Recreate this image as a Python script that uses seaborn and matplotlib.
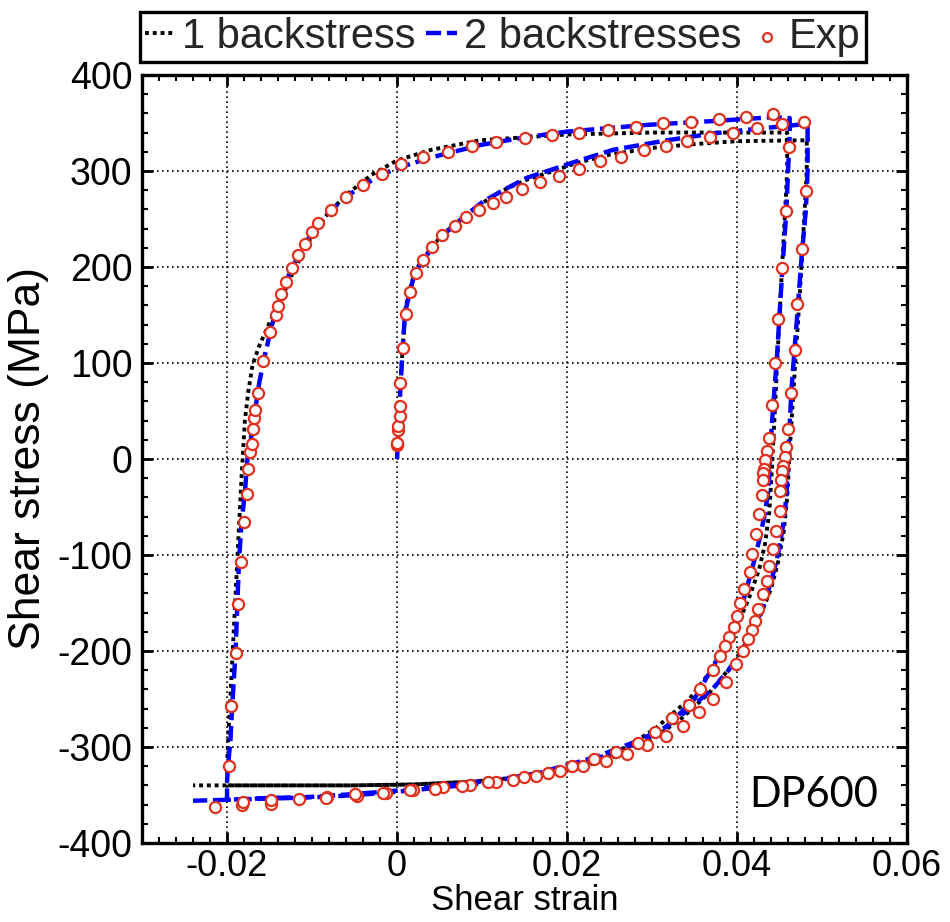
import matplotlib
matplotlib.use("Agg")
import matplotlib.pyplot as plt
import seaborn as sns
import pandas as pd
from matplotlib.ticker import MultipleLocator

# ---------------- data ----------------
# 1 backstress model, full load path: load -> unload -> reverse -> reload -> unload
bs1_strain = [0, 0.0002, 0.0004, 0.0007, 0.0010, 0.0016, 0.0022, 0.0032, 0.0043, 0.0055, 0.0070,
              0.0085, 0.0101, 0.0125, 0.0153, 0.0184, 0.0210, 0.0250, 0.0300, 0.0350, 0.0400, 0.0482,
              0.0482, 0.0479, 0.0473, 0.0467, 0.0462, 0.0459, 0.0455, 0.0449, 0.0440, 0.0428, 0.0412,
              0.0392, 0.0368, 0.0335, 0.0300, 0.0260, 0.0210, 0.0150, 0.0090, 0.0020, -0.0050, -0.0200,
              -0.0200, -0.0198, -0.0195, -0.0191, -0.0187, -0.0183, -0.0179, -0.0175, -0.0170, -0.0162,
              -0.0150, -0.0137, -0.0122, -0.0105, -0.0085, -0.0060, -0.0030, 0.0000, 0.0040, 0.0098,
              0.0200, 0.0300, 0.0400, 0.0459,
              0.0459, 0.0456, 0.0450, 0.0445, 0.0441, 0.0438, 0.0433, 0.0426, 0.0414, 0.0398, 0.0374,
              0.0344, 0.0305, 0.0262, 0.0210, 0.0150, 0.0090, 0.0020, -0.0050, -0.0240]
bs1_stress = [0, 40, 80, 120, 158, 180, 197, 210, 223, 235, 246,
              257, 267, 280, 291, 300, 308, 317, 324, 328, 331, 332,
              300, 250, 160, 80, 10, -40, -75, -105, -135, -162, -190,
              -217, -243, -270, -292, -309, -323, -332, -336, -339, -340, -340,
              -320, -280, -230, -160, -90, -20, 40, 70, 98, 118,
              142, 165, 195, 225, 252, 275, 296, 311, 322, 332,
              338, 340, 340, 340,
              300, 250, 150, 60, -10, -55, -88, -115, -145, -178, -215,
              -250, -280, -305, -322, -331, -336, -339, -340, -340]

# 2 backstresses model, same load path
bs2_strain = [0, 0.0002, 0.00043, 0.00067, 0.00094, 0.0015, 0.0021, 0.0031, 0.0042, 0.0054, 0.0068,
              0.0084, 0.0101, 0.0125, 0.0153, 0.0184, 0.0204, 0.0254, 0.0318, 0.0372, 0.0424, 0.0459,
              0.0483,
              0.0483, 0.0481, 0.0476, 0.0470, 0.0464, 0.0460, 0.0458, 0.0454, 0.0448, 0.0440, 0.0430,
              0.0418, 0.0404, 0.0390, 0.0372, 0.0340, 0.0309, 0.0274, 0.0235, 0.0200, 0.0150, 0.0090,
              0.0020, -0.0050, -0.0120, -0.0200,
              -0.0200, -0.0199, -0.0196, -0.0194, -0.0190, -0.0188, -0.0186, -0.0183, -0.0179, -0.0176,
              -0.0172, -0.0167, -0.0162, -0.0155, -0.0147, -0.0138, -0.0128, -0.0115, -0.0100, -0.0080,
              -0.0060, -0.0040, -0.0020, 0.0000, 0.0040, 0.0098, 0.0150, 0.0200, 0.0294, 0.0372, 0.0442,
              0.0462,
              0.0462, 0.0458, 0.0453, 0.0447, 0.0441, 0.0437, 0.0432, 0.0426, 0.0419, 0.0411, 0.0402,
              0.0388, 0.0372, 0.0349, 0.0317, 0.0282, 0.0235, 0.0200, 0.0156, 0.0098, 0.0019, -0.0016,
              -0.0083, -0.0146, -0.0200, -0.0240]
bs2_stress = [0, 40, 79, 116, 152, 174, 194, 207, 221, 233, 244,
              256, 268, 280, 293, 302, 308, 322, 332, 339, 344, 347,
              349,
              300, 260, 211, 141, 72, 2, -40, -70, -100, -128, -155,
              -180, -202, -220, -239, -263, -284, -299, -312, -321, -330, -337,
              -344, -349, -353, -355,
              -337, -321, -293, -258, -202, -154, -108, -67, -35, 0,
              20, 50, 80, 110, 140, 165, 190, 214, 236, 257,
              273, 285, 295, 303, 314, 327, 335, 341, 348, 352, 356,
              355,
              340, 259, 194, 107, 37, -32, -60, -85, -110, -136, -164,
              -189, -216, -251, -279, -294, -310, -319, -329, -338, -345, -348,
              -352, -353, -355, -356]

# experimental points
exp_strain = [0, 0, 0.0001, 0.0001, 0.0003, 0.0003, 0.0004, 0.0007, 0.0010, 0.0015, 0.0022, 0.0031,
              0.0041, 0.0053, 0.0068, 0.0081, 0.0097, 0.0113, 0.0128, 0.0147, 0.0168, 0.0190, 0.0214,
              0.0239, 0.0264, 0.0290, 0.0316, 0.0341, 0.0368, 0.0395, 0.0423, 0.0453,
              0.0479, 0.0481, 0.0476, 0.0471, 0.0468, 0.0463, 0.0460, 0.0458, 0.0456, 0.0454, 0.0453,
              0.0452, 0.0451, 0.0450, 0.0446, 0.0442, 0.0438, 0.0435, 0.0430, 0.0425, 0.0421, 0.0417,
              0.0413, 0.0407, 0.0399, 0.0387, 0.0372, 0.0355, 0.0336, 0.0317, 0.0294, 0.0271, 0.0246,
              0.0219, 0.0192, 0.0164, 0.0137, 0.0116, 0.0086, 0.0054, 0.0019, -0.0013, -0.0047,
              -0.0082, -0.0115, -0.0148, -0.0182,
              -0.0198, -0.0195, -0.0190, -0.0187, -0.0184, -0.0180, -0.0177, -0.0175, -0.0173, -0.0171,
              -0.0169, -0.0168, -0.0167, -0.0163, -0.0158, -0.0150, -0.0142, -0.0140, -0.0136, -0.0131,
              -0.0124, -0.0117, -0.0108, -0.0100, -0.0093, -0.0078, -0.0060, -0.0040, -0.0018, 0.0005,
              0.0031, 0.0060, 0.0088, 0.0117, 0.0150, 0.0182, 0.0214, 0.0248, 0.0281, 0.0313, 0.0346,
              0.0379, 0.0411, 0.0442,
              0.0461, 0.0457, 0.0453, 0.0448, 0.0445, 0.0441, 0.0437, 0.0435, 0.0433, 0.0432, 0.0431,
              0.0431, 0.0429, 0.0426, 0.0422, 0.0417, 0.0415, 0.0408, 0.0404, 0.0400, 0.0396, 0.0391,
              0.0386, 0.0380, 0.0372, 0.0356, 0.0343, 0.0323, 0.0304, 0.0283, 0.0258, 0.0232, 0.0206,
              0.0178, 0.0149, 0.0107, 0.0076, 0.0045, 0.0015, -0.0016, -0.0049, -0.0083, -0.0148,
              -0.0181, -0.0214]
exp_stress = [15, 17, 30, 34, 45, 55, 79, 116, 151, 174, 194, 207,
              221, 233, 243, 252, 259, 267, 273, 281, 289, 295, 302,
              310, 315, 322, 326, 331, 335, 340, 345, 349,
              351, 279, 219, 161, 113, 69, 31, 12, 2, -7, -13,
              -22, -33, -54, -75, -94, -111, -127, -141, -156, -169, -178,
              -188, -200, -214, -232, -250, -264, -278, -289, -298, -307, -315,
              -320, -325, -330, -334, -336, -340, -342, -345, -348, -351,
              -352, -354, -359, -360,
              -320, -257, -202, -151, -107, -66, -36, -10, 7, 16,
              31, 43, 51, 69, 102, 132, 150, 159, 172, 184,
              199, 212, 224, 236, 246, 259, 273, 285, 297, 307,
              315, 320, 326, 330, 334, 337, 340, 343, 346, 350, 351,
              354, 356, 359,
              325, 258, 199, 146, 100, 56, 22, 8, -1, -10, -15,
              -22, -38, -57, -78, -99, -118, -135, -150, -164, -175, -185,
              -195, -205, -220, -240, -256, -270, -284, -296, -305, -313, -320,
              -327, -331, -336, -341, -344, -345, -348, -349, -353, -355,
              -357, -362]

x_ticks = [-0.02, 0, 0.02, 0.04, 0.06]
x_tick_labels = ["-0.02", "0", "0.02", "0.04", "0.06"]
y_ticks = [-400, -300, -200, -100, 0, 100, 200, 300, 400]

# ---------------- style ----------------
sns.set_theme(style="ticks")
plt.rcParams["font.family"] = ["Liberation Sans", "DejaVu Sans"]
plt.rcParams["axes.unicode_minus"] = False

fig = plt.figure(figsize=(9.5, 9.22), dpi=100)
ax = fig.add_axes([0.1495, 0.0857, 0.8053, 0.833])

df1 = pd.DataFrame({"strain": bs1_strain, "stress": bs1_stress})
df2 = pd.DataFrame({"strain": bs2_strain, "stress": bs2_stress})
dfe = pd.DataFrame({"strain": exp_strain, "stress": exp_stress})

sns.lineplot(data=df1, x="strain", y="stress", sort=False, estimator=None, ax=ax,
             color="black", linewidth=2.8, linestyle=(0, (1, 1.0)), label="1 backstress", zorder=2)
sns.lineplot(data=df2, x="strain", y="stress", sort=False, estimator=None, ax=ax,
             color="#0000ff", linewidth=3.2, linestyle=(0, (3.4, 1.3)), label="2 backstresses", zorder=2.5)
sns.scatterplot(data=dfe, x="strain", y="stress", ax=ax, marker="o", s=64,
                facecolor="white", edgecolor="#e0301e", linewidth=1.6, label="Exp", zorder=3)

ax.set_xlim(-0.03, 0.06)
ax.set_ylim(-400, 400)
ax.set_xticks(x_ticks)
ax.set_xticklabels(x_tick_labels)
ax.set_yticks(y_ticks)
ax.xaxis.set_minor_locator(MultipleLocator(0.002))
ax.yaxis.set_minor_locator(MultipleLocator(20))
ax.tick_params(which="both", direction="in", top=True, right=True, color="black")
ax.tick_params(which="major", length=8, width=2, labelsize=27, pad=7, labelcolor="black")
ax.tick_params(axis="x", which="major", labelsize=26, pad=4)
ax.tick_params(which="minor", length=4, width=1.5)
ax.grid(True, which="major", color="black", linestyle=(0, (1, 2.0)), linewidth=1.2)
for sp in ax.spines.values():
    sp.set_linewidth(2.4)
    sp.set_color("black")

ax.set_xlabel("Shear strain", fontsize=25, labelpad=0, color="black")
ax.set_ylabel("Shear stress (MPa)", fontsize=32, labelpad=6, color="black")

ax.text(0.878, 0.063, "DP600", transform=ax.transAxes, ha="center", va="center",
        fontsize=30, family=["Lato", "DejaVu Sans"], color="black")

leg = ax.legend(ncol=3, loc="lower left", bbox_to_anchor=(-0.003, 1.017), borderaxespad=0,
                fontsize=30, frameon=True, fancybox=False, edgecolor="black", framealpha=1,
                handlelength=0.75, handletextpad=0.15, columnspacing=0.25, borderpad=0.12,
                markerscale=0.8)
leg.get_frame().set_linewidth(2.4)

fig.savefig("out.png", dpi=100)
